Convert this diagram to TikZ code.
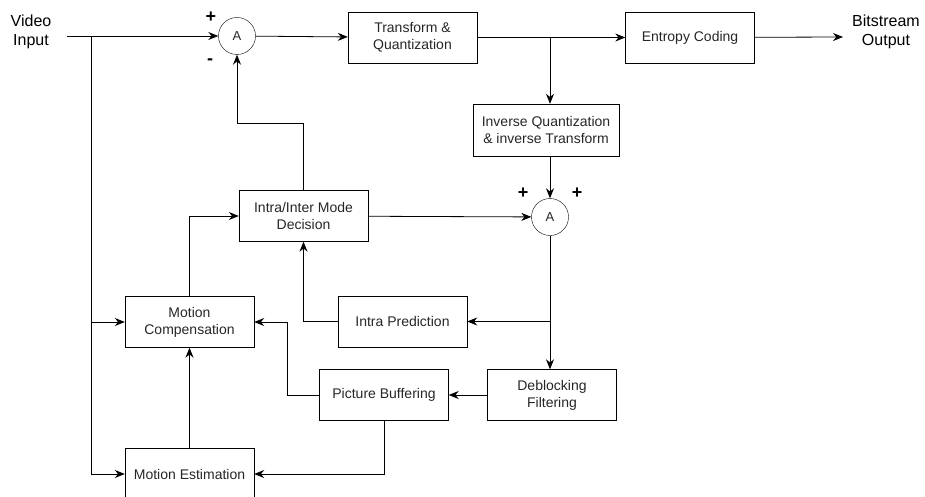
\documentclass[tikz,border=0pt]{standalone}
\usepackage{fontspec}
\setmainfont{Liberation Sans}
\usetikzlibrary{arrows.meta}
\newcommand{\mkbox}[3]{\node[codbox] (#1) at (#2) {#3} ;}
\tikzset{
    codbox/.style={
        draw,
        rectangle,
        align=center,
        inner sep=0,
        minimum width=129pt,
        minimum height=51pt,
        text=black!85,
        font=\fontsize{14}{17}\selectfont,
    },
    adder/.style={
        draw,
        circle,
        inner sep=0,
        minimum size=37pt,
        text=black!85,
        font=\fontsize{13}{15}\selectfont,
    },
    sign/.style={
        font=\fontsize{18}{18}\selectfont\bfseries,
    },
    io/.style={
        align=center,
        font=\fontsize{16}{19}\selectfont,
    },
    flow/.style={
        line width=0.8pt,
        -{Stealth[length=10pt,width=8pt]},
    },
}

\begin{document}
\begin{tikzpicture}[x=1pt,y=-1pt]
            \useasboundingbox (0,0) rectangle (925,497);

            \node[io] (VI) at (31,32) {Video\\Input} ;
            \node[io] (BO) at (886,32) {Bitstream\\Output} ;
            \coordinate (in) at (67,36) ;
            \coordinate (out) at (843,37) ;

            \node[adder] (A1) at (237,36) {A} ;
            \node[adder] (A2) at (550,217) {A} ;
            \node[sign] at (211,17) {+} ;
            \node[sign] at (210,62) {-} ;
            \node[sign] at (523,193) {+} ;
            \node[sign] at (577,193) {+} ;

            \mkbox{TQ}{412.5,37.5}{Transform \&\\Quantization}
            \mkbox{EC}{690,37.5}{Entropy Coding}
            \node[codbox, minimum width=146pt, minimum height=52pt] (IQ) at (546,130)
                {Inverse Quantization\\\& inverse Transform} ;
            \mkbox{MD}{303.5,216}{Intra/Inter Mode\\Decision}
            \mkbox{MC}{189.5,322}{Motion\\Compensation}
            \mkbox{IP}{402.5,321.5}{Intra Prediction}
            \mkbox{PB}{384,395}{Picture Buffering}
            \mkbox{DF}{552,395}{Deblocking\\Filtering}
            \node[codbox, minimum height=52pt] (ME) at (189.5,474) {Motion Estimation} ;

            \draw[flow] (in) -- (A1) ;
            \draw[flow] (91,36) |- (MC) ;
            \draw[flow] (91,36) |- (ME) ;
            \draw[flow] (A1) -- (TQ) ;
            \draw[flow] (TQ) -- (EC) ;
            \draw[flow] (IQ.north -| A2) ++(0,-67) -- (IQ.north -| A2) ;
            \draw[flow] (EC) -- (out) ;
            \draw[flow] (IQ.south -| A2) -- (A2) ;
            \draw[flow] (MD) -- (A2) ;
            \draw[flow] (A2) -- (A2 |- DF.north) ;
            \draw[flow] (A2 |- IP) -- (IP) ;
            \draw[flow] (IP.west) -| (MD.south) ;
            \draw[flow] (MD.north) |- (237,123) -- (A1.south) ;
            \draw[flow] (MC.north) |- (MD.west) ;
            \draw[flow] (ME) -- (MC) ;
            \draw[flow] (DF) -- (PB) ;
            \draw[flow] (PB.west) -- (287,395) |- (MC.east) ;
            \draw[flow] (PB.south) |- (ME.east) ;
        \end{tikzpicture}
\end{document}
